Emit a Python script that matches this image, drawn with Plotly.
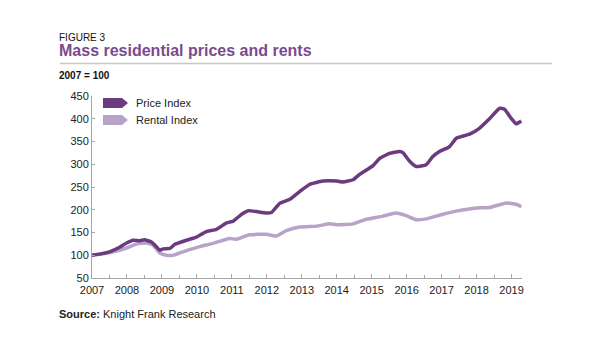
import plotly.graph_objects as go

price_x = [2007.0, 2007.25, 2007.52, 2007.8, 2007.99, 2008.18, 2008.37, 2008.5, 2008.7, 2008.85, 2008.94,
           2009.04, 2009.23, 2009.37, 2009.7, 2009.99, 2010.27, 2010.56, 2010.85, 2011.04, 2011.28, 2011.47,
           2011.7, 2011.99, 2012.13, 2012.37, 2012.66, 2012.94, 2013.23, 2013.42, 2013.6, 2014.0, 2014.18,
           2014.47, 2014.66, 2015.04, 2015.23, 2015.51, 2015.8, 2015.9, 2016.08, 2016.27, 2016.56, 2016.75,
           2016.94, 2017.23, 2017.42, 2017.8, 2018.08, 2018.37, 2018.66, 2018.8, 2018.99, 2019.13, 2019.28]
price_y = [100, 103, 108, 118, 127, 133, 132, 134, 129, 118, 111,
           114, 115, 124, 133, 140, 152, 157, 171, 175, 190, 198,
           196, 193, 194, 214, 223, 240, 256, 260, 263, 263, 261,
           266, 278, 297, 313, 324, 328, 325, 307, 295, 299, 317,
           328, 339, 357, 366, 379, 400, 423, 421, 401, 389, 395]

rent_x = [2007.0, 2007.52, 2007.99, 2008.28, 2008.56, 2008.75, 2008.94, 2009.13, 2009.32, 2009.7, 2010.08,
          2010.46, 2010.93, 2011.12, 2011.5, 2011.99, 2012.27, 2012.56, 2012.94, 2013.42, 2013.8, 2013.99,
          2014.47, 2014.85, 2015.32, 2015.7, 2015.99, 2016.27, 2016.56, 2017.04, 2017.42, 2017.99, 2018.37,
          2018.85, 2019.13, 2019.28]
rent_y = [100, 106, 116, 125, 127, 122, 105, 100, 100, 110, 119,
          126, 137, 135, 145, 146, 142, 154, 162, 164, 169, 167,
          169, 179, 186, 193, 187, 178, 180, 190, 197, 204, 205,
          215, 212, 207]

year_ticks = list(range(2007, 2020))
year_labels = [str(y) for y in year_ticks]
y_ticks = [50, 100, 150, 200, 250, 300, 350, 400, 450]

price_col = "#6c3b7f"
rent_col = "#b9a2c8"
axis_col = "#a6a6a6"
font = "Liberation Sans, Arial, sans-serif"

# page offset (browser body margin)
OFF = 8
W, H = 600, 360
PL, PR, PT, PB = 92, 522, 96, 278  # plot area edges in screenshot pixels

fig = go.Figure()
fig.add_trace(go.Scatter(x=rent_x, y=rent_y, mode="lines", name="Rental Index",
                         line=dict(color=rent_col, width=3.5, shape="spline", smoothing=0.4)))
fig.add_trace(go.Scatter(x=price_x, y=price_y, mode="lines", name="Price Index",
                         line=dict(color=price_col, width=3.5, shape="spline", smoothing=0.4)))

fig.update_layout(
    width=W, height=H,
    margin=dict(l=PL - OFF, r=W - (PR - OFF), t=PT - OFF, b=H - (PB - OFF)),
    paper_bgcolor="white", plot_bgcolor="white",
    showlegend=False,
    font=dict(family=font, size=11, color="#222"),
    xaxis=dict(range=[2007, 2019.3], tickvals=year_ticks, ticktext=year_labels,
               showgrid=False, zeroline=False, showline=True, linecolor=axis_col, linewidth=1,
               ticks="inside", ticklen=4, tickcolor=axis_col, ticklabelstandoff=2,
               minor=dict(dtick=0.5, tick0=2007, ticks="inside", ticklen=3, tickcolor=axis_col),
               tickfont=dict(size=11, color="#222")),
    yaxis=dict(range=[50, 450], tickvals=y_ticks, showgrid=False, zeroline=False,
               showline=True, linecolor=axis_col, linewidth=1,
               ticks="inside", ticklen=3, tickcolor=axis_col,
               tickfont=dict(size=11, color="#222")),
)

def px2paper(px, py):
    return (px - PL) / (PR - PL), (PB - py) / (PB - PT)

def chevron_px(x0, yc, w, h, color):
    xa, _ = px2paper(x0, yc)
    xb, _ = px2paper(x0 + w - 6, yc)
    xc, ym = px2paper(x0 + w, yc)
    _, yt = px2paper(x0, yc - h / 2)
    _, yb = px2paper(x0, yc + h / 2)
    path = f"M {xa},{yt} L {xb},{yt} L {xc},{ym} L {xb},{yb} L {xa},{yb} Z"
    fig.add_shape(type="path", path=path, xref="paper", yref="paper",
                  fillcolor=color, line=dict(width=0), layer="above")

chevron_px(103, 103, 25, 10, price_col)
chevron_px(103, 120, 25, 10, rent_col)

def text_px(px, py, txt, size=11, color="#222", xanchor="left"):
    x, y = px2paper(px, py)
    fig.add_annotation(x=x, y=y, xref="paper", yref="paper", text=txt, showarrow=False,
                       xanchor=xanchor, yanchor="middle",
                       font=dict(family=font, size=size, color=color))

text_px(134, 103, "Price Index", 11)
text_px(134, 120, "Rental Index", 11)

text_px(57, 37, "FIGURE 3", 10, "#111")
text_px(57, 50, "<b>Mass residential prices and rents</b>", 16, "#7b4a8e")
text_px(57, 76, "<b>2007 = 100</b>", 10, "#111")
text_px(57, 314, "<b>Source:</b> Knight Frank Research", 11, "#222")

xa, ya = px2paper(60, 63.5)
xb, _ = px2paper(552, 63.5)
fig.add_shape(type="line", xref="paper", yref="paper", x0=xa, x1=xb, y0=ya, y1=ya,
              line=dict(color="#c8c8c8", width=1.5))

fig.write_html("out.html")
